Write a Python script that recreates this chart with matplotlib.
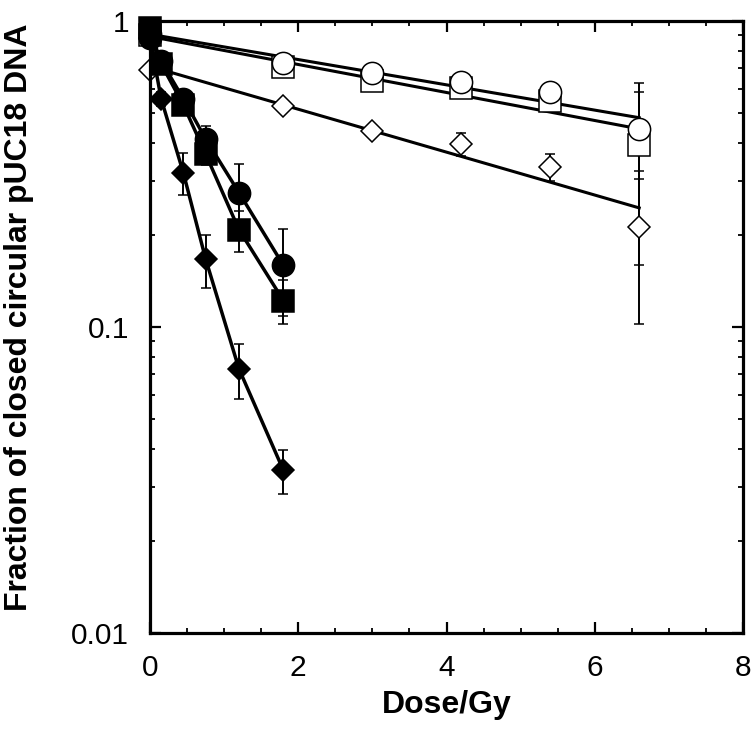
import matplotlib
matplotlib.use("Agg")
import matplotlib.pyplot as plt

plt.rcParams['font.family'] = ['Liberation Sans', 'DejaVu Sans']

# filled symbols (low doses)
dose_f = [0.0, 0.15, 0.45, 0.75, 1.2, 1.8]
circ_f = [0.88, 0.74, 0.557, 0.412, 0.275, 0.159]
circ_f_err = [0.02, 0.02, 0.03, 0.043, 0.066, 0.05]
sq_f = [0.95, 0.724, 0.532, 0.368, 0.208, 0.122]
sq_f_err = [0.02, 0.02, 0.03, 0.03, 0.032, 0.02]
dia_f = [0.88, 0.557, 0.319, 0.167, 0.073, 0.034]
dia_f_err = [0.02, 0.03, 0.05, 0.033, 0.015, 0.0055]

# open symbols (high doses)
dose_o = [0.0, 1.8, 3.0, 4.2, 5.4, 6.6]
circ_o = [0.91, 0.73, 0.676, 0.632, 0.586, 0.444]
circ_o_err = [0.02, 0.03, 0.03, 0.03, 0.03, 0.14]
sq_o = [0.90, 0.71, 0.637, 0.605, 0.548, 0.394]
sq_o_err = [0.02, 0.03, 0.03, 0.03, 0.03, 0.235]
dia_o = [0.69, 0.528, 0.438, 0.397, 0.334, 0.213]
dia_o_err = [0.02, 0.02, 0.02, 0.035, 0.034, 0.111]

# fitted lines for open symbols (end points)
fit_x = [0.0, 6.6]
fit_circ = [0.905, 0.483]
fit_sq = [0.89, 0.444]
fit_dia = [0.711, 0.245]

fig = plt.figure(figsize=(7.52, 7.30), dpi=100)
ax = fig.add_axes([150/752, 97/730, 593/752, 612/730])

eb = dict(ecolor='black', elinewidth=1.4, capsize=3.6, capthick=2, linestyle='none', zorder=3)


def draw(x, y, err, marker, size, face, z):
    eb['zorder'] = z
    cont = ax.errorbar(x, y, yerr=err, fmt=marker, ms=size, mfc=face, mec='black', mew=1.1, **eb)
    for art in cont.lines[0:1]:
        art.set_clip_on(False)


# open series
ax.plot(fit_x, fit_circ, color='black', lw=2.2, zorder=2)
ax.plot(fit_x, fit_sq, color='black', lw=2.2, zorder=2)
ax.plot(fit_x, fit_dia, color='black', lw=2.2, zorder=2)
draw(dose_o, sq_o, sq_o_err, 's', 16.5, 'white', 3)
draw(dose_o, circ_o, circ_o_err, 'o', 16, 'white', 3)
draw(dose_o, dia_o, dia_o_err, 'D', 11.5, 'white', 3)

# filled series
ax.plot(dose_f, dia_f, color='black', lw=2.5, zorder=4)
ax.plot(dose_f, circ_f, color='black', lw=2.5, zorder=4)
ax.plot(dose_f, sq_f, color='black', lw=2.5, zorder=4)
draw(dose_f, dia_f, dia_f_err, 'D', 11.5, 'black', 5)
draw(dose_f, circ_f, circ_f_err, 'o', 16, 'black', 5)
draw(dose_f, sq_f, sq_f_err, 's', 16.5, 'black', 5)

ax.set_yscale('log')
ax.set_xlim(0, 8)
ax.set_ylim(0.01, 1)
ax.set_xticks([0, 2, 4, 6, 8])
ax.set_xticks([0.5, 1, 1.5, 2.5, 3, 3.5, 4.5, 5, 5.5, 6.5, 7, 7.5], minor=True)
ax.set_yticks([0.01, 0.1, 1])
ax.set_yticklabels(['0.01', '0.1', '1'])

for s in ax.spines.values():
    s.set_linewidth(2.3)
    s.set_zorder(6)
ax.tick_params(which='both', direction='in', top=True, right=True, labelsize=21.5)
ax.tick_params(which='major', length=8, width=1.6, pad=15)
ax.tick_params(which='minor', length=3.5, width=1.3)

ax.set_xlabel('Dose/Gy', fontsize=23, fontweight='bold', labelpad=6)
ax.set_ylabel('Fraction of closed circular pUC18 DNA', fontsize=23, fontweight='bold')
ax.yaxis.set_label_coords(-0.196, 0.516)

fig.savefig('out.png', dpi=100)
